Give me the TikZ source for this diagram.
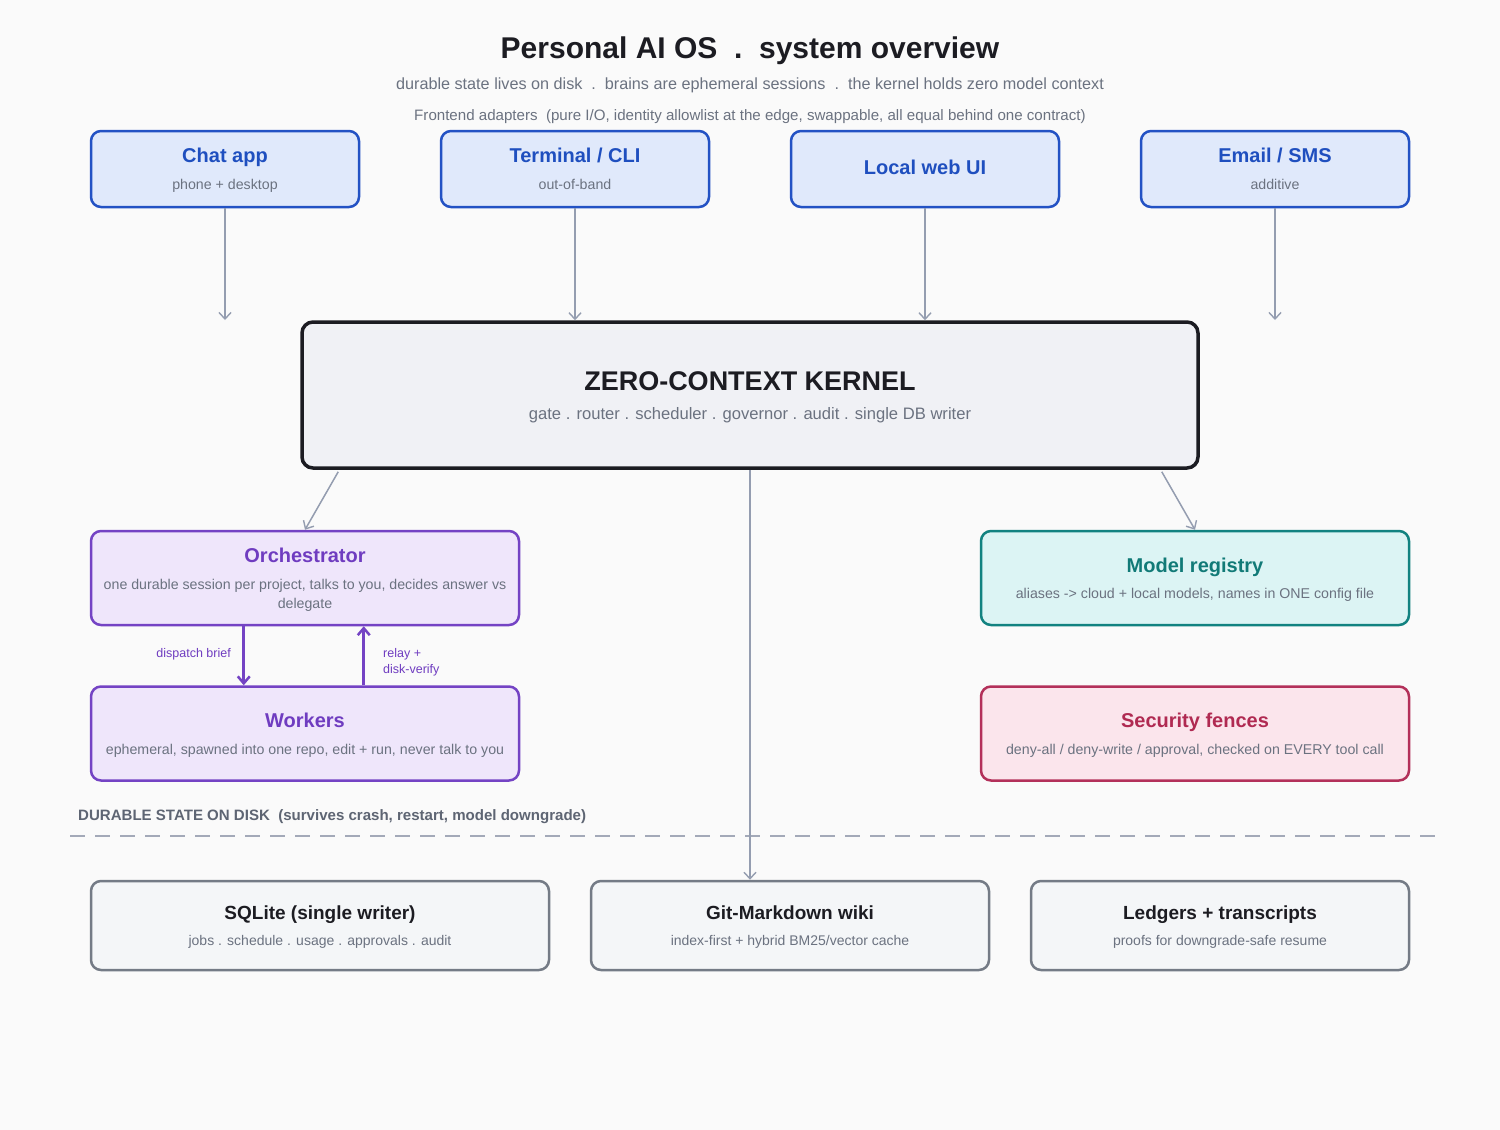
\documentclass[tikz,border=0pt]{standalone}
\usepackage{fontspec}
\setmainfont{Liberation Sans}
\usetikzlibrary{arrows.meta,calc}
\definecolor{bgc}{HTML}{FAFAFA}
\definecolor{bluestroke}{HTML}{2352C4}
\definecolor{bluefill}{HTML}{E0E9FB}
\definecolor{bluetext}{HTML}{1F4FBF}
\definecolor{graytext}{HTML}{6B7280}
\definecolor{conngray}{HTML}{949DB0}
\definecolor{kstroke}{HTML}{1C1C22}
\definecolor{kfill}{HTML}{F0F1F5}
\definecolor{pstroke}{HTML}{7443C4}
\definecolor{pfill}{HTML}{EFE6FB}
\definecolor{ptext}{HTML}{6F3CC0}
\definecolor{tstroke}{HTML}{128280}
\definecolor{tfill}{HTML}{DCF4F4}
\definecolor{ttext}{HTML}{117A77}
\definecolor{cstroke}{HTML}{B3305A}
\definecolor{cfill}{HTML}{FBE5EC}
\definecolor{ctext}{HTML}{B02A52}
\definecolor{dstroke}{HTML}{747B86}
\definecolor{dfill}{HTML}{F4F6F8}
\definecolor{darktext}{HTML}{1C1C22}
\definecolor{durtext}{HTML}{5E6573}
\definecolor{dashc}{HTML}{A3A9B8}
\tikzset{
  boxbase/.style={rectangle, rounded corners=10pt, line width=2.5pt, inner sep=0pt},
  fbox/.style={boxbase, draw=bluestroke, fill=bluefill, minimum width=268pt, minimum height=76pt},
  pbox/.style={boxbase, draw=pstroke, fill=pfill, minimum width=428pt, minimum height=94pt},
  tbox/.style={boxbase, draw=tstroke, fill=tfill, minimum width=428pt, minimum height=94pt},
  cbox/.style={boxbase, draw=cstroke, fill=cfill, minimum width=428pt, minimum height=94pt},
  dbox/.style={boxbase, draw=dstroke, fill=dfill, minimum height=89pt},
  kbox/.style={rectangle, rounded corners=11pt, line width=3.5pt, draw=kstroke, fill=kfill, minimum width=896pt, minimum height=146pt},
  txt/.style={inner sep=0pt, anchor=base},
  ttl/.style={txt, font=\fontsize{20}{24}\selectfont\bfseries},
  dttl/.style={txt, font=\fontsize{19}{23}\selectfont\bfseries, text=darktext},
  sub/.style={txt, font=\fontsize{14.2}{17}\selectfont, text=graytext},
  conn/.style={draw=conngray, line width=1.5pt, -{Straight Barb[length=6.5pt,width=12pt,line width=1.4pt]}},
  pconn/.style={draw=pstroke, line width=3pt, -{Straight Barb[length=7pt,width=12pt,line width=2.5pt]}},
  plabel/.style={txt, font=\fontsize{12.5}{16}\selectfont, text=ptext},
}
\begin{document}
\begin{tikzpicture}[x=1pt,y=-1pt]
\useasboundingbox[fill=bgc] (0,0) rectangle (1500,1130);

% header
\node[txt, font=\fontsize{30}{34}\selectfont\bfseries, text=darktext] (title) at (750,58) {Personal AI OS\ \ .\ \ system overview};
\node[txt, font=\fontsize{16.2}{19}\selectfont, text=graytext] (subtitle) at (750,89) {durable state lives on disk\ \ .\ \ brains are ephemeral sessions\ \ .\ \ the kernel holds zero model context};
\node[txt, font=\fontsize{15.1}{18}\selectfont, text=graytext] (frontlabel) at (750,120) {Frontend adapters\ \ (pure I/O, identity allowlist at the edge, swappable, all equal behind one contract)};

% frontend boxes
\node[fbox] (chat) at (225,169) {};
\node[ttl, text=bluetext] at (225,162) {Chat app};
\node[sub] at (225,189) {phone + desktop};

\node[fbox] (term) at (575,169) {};
\node[ttl, text=bluetext] at (575,162) {Terminal / CLI};
\node[sub] at (575,189) {out-of-band};

\node[fbox] (web) at (925,169) {};
\node[ttl, text=bluetext] at (925,174) {Local web UI};

\node[fbox] (mail) at (1275,169) {};
\node[ttl, text=bluetext] at (1275,162) {Email / SMS};
\node[sub] at (1275,189) {additive};

% kernel
\node[kbox] (kernel) at (750,395) {};
\node[txt, font=\fontsize{27}{31}\selectfont\bfseries, text=darktext] at (750,390) {ZERO-CONTEXT KERNEL};
\node[txt, font=\fontsize{16.6}{19}\selectfont, text=graytext] at (750,419) {gate . router . scheduler . governor . audit . single DB writer};

\coordinate (chatend) at (225,320);
\coordinate (mailend) at (1275,320);
\draw[conn] (chat.south) -- (chatend);
\draw[conn] (term.south) -- (term.south |- kernel.north);
\draw[conn] (web.south) -- (web.south |- kernel.north);
\draw[conn] (mail.south) -- (mailend);

% orchestrator / workers
\node[pbox] (orch) at (305,578) {};
\node[ttl, text=ptext] at (305,562) {Orchestrator};
\node[sub] at (305,589) {one durable session per project, talks to you, decides answer vs};
\node[sub] at (305,608) {delegate};

\node[pbox] (work) at (305,733.5) {};
\node[ttl, text=ptext] at (305,727) {Workers};
\node[sub] at (305,754) {ephemeral, spawned into one repo, edit + run, never talk to you};

\draw[pconn] ($(orch.south west)+(154,0)$) -- ($(work.north west)+(154,0)$);
\draw[pconn] ($(work.north west)+(274,0)$) -- ($(orch.south west)+(274,0)$);
\node[plabel, anchor=base east] (dlabel) at (231,657.5) {dispatch brief};
\node[plabel, anchor=base west] (rlabel1) at (383,657.5) {relay +};
\node[plabel, anchor=base west] (rlabel2) at (383,673.5) {disk-verify};

% registry / security
\node[tbox] (reg) at (1195,578) {};
\node[ttl, text=ttext] at (1195,572) {Model registry};
\node[sub] at (1195,598) {aliases -> cloud + local models, names in ONE config file};

\node[cbox] (sec) at (1195,733.5) {};
\node[ttl, text=ctext] at (1195,727) {Security fences};
\node[sub] at (1195,754) {deny-all / deny-write / approval, checked on EVERY tool call};

% kernel outputs
\draw[conn] ($(kernel.south west)+(38,2)$) -- (orch.north);
\draw[conn] ($(kernel.south east)+(-38,2)$) -- (reg.north);

% durable state
\node[txt, font=\fontsize{15.05}{18}\selectfont\bfseries, text=durtext, anchor=base west] (durlabel) at (78,820) {DURABLE STATE ON DISK\ \ (survives crash, restart, model downgrade)};
\coordinate (dashL) at (70,836);
\coordinate (dashR) at (1436,836);
\draw[dashc, line width=1.8pt, dash pattern=on 15pt off 10pt] (dashL) -- (dashR);

\node[dbox, minimum width=458pt] (sql) at (320,925.5) {};
\node[dttl] at (320,919) {SQLite (single writer)};
\node[sub, font=\fontsize{14}{17}\selectfont] at (320,945) {jobs . schedule . usage . approvals . audit};

\node[dbox, minimum width=398pt] (git) at (790,925.5) {};
\node[dttl] at (790,919) {Git-Markdown wiki};
\node[sub, font=\fontsize{14}{17}\selectfont] at (790,945) {index-first + hybrid BM25/vector cache};

\node[dbox, minimum width=378pt] (ledg) at (1220,925.5) {};
\node[dttl] at (1220,919) {Ledgers + transcripts};
\node[sub, font=\fontsize{14}{17}\selectfont] at (1220,945) {proofs for downgrade-safe resume};

\draw[conn] (kernel.south) -- (kernel.south |- git.north);
\end{tikzpicture}
\end{document}
